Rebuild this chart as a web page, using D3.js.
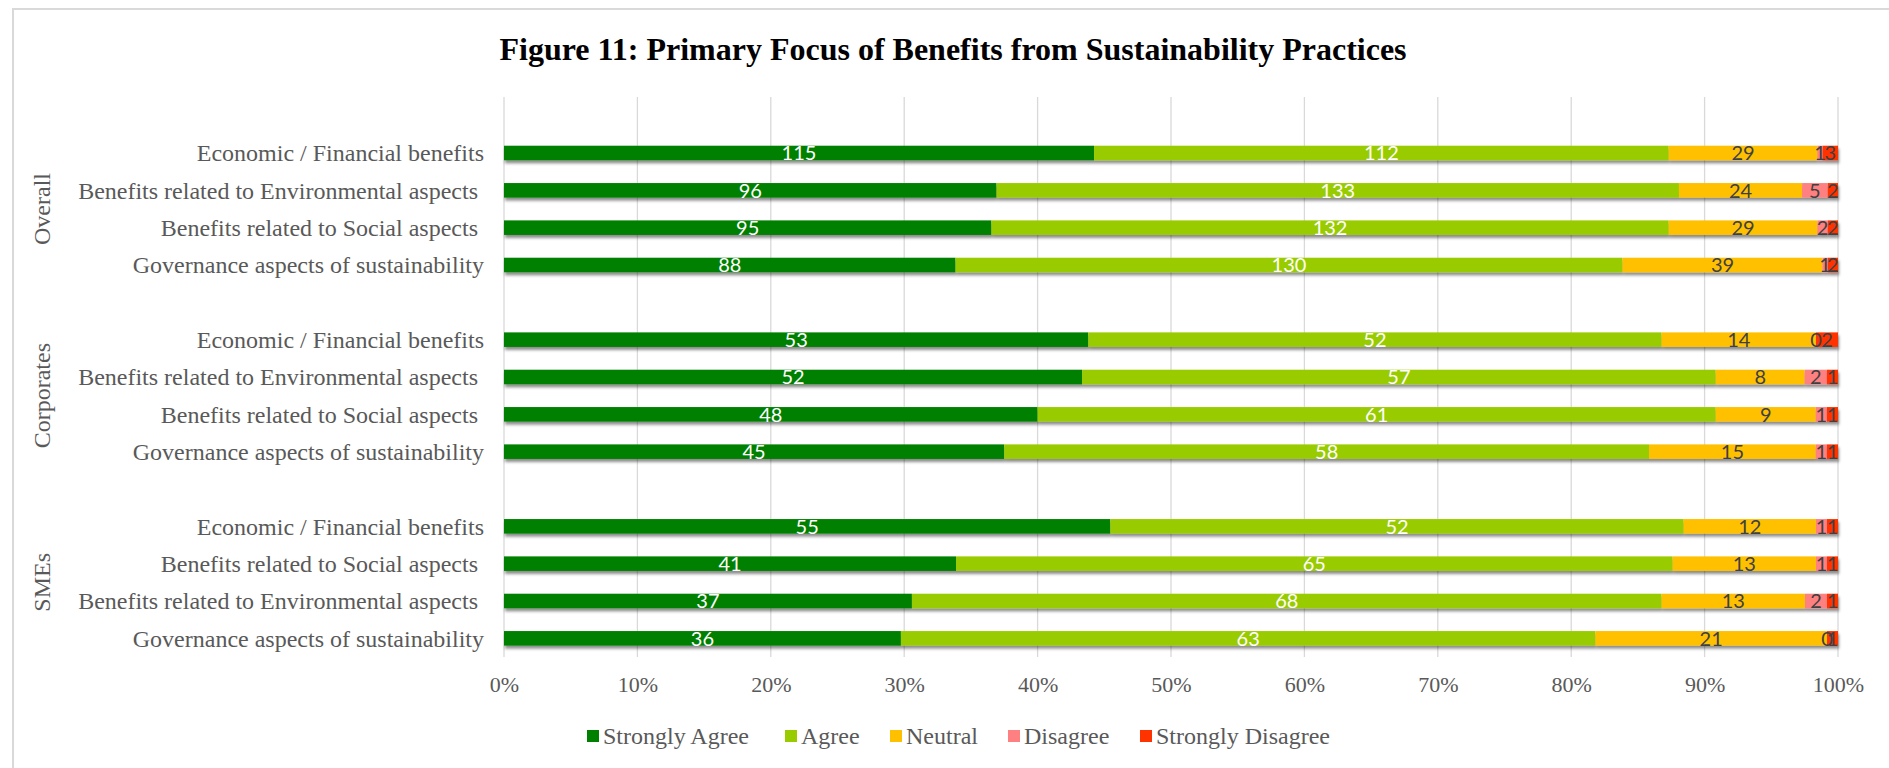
<!DOCTYPE html>
<html>
<head>
<meta charset="utf-8">
<script src="https://cdn.jsdelivr.net/npm/d3@7"></script>
<style>
  html, body { margin: 0; padding: 0; background: #fff; }
  svg { display: block; }
</style>
</head>
<body>
<svg id="chart" width="1889" height="768"></svg>
<script>
// ---------------- DATA ----------------
const title = "Figure 11: Primary Focus of Benefits from Sustainability Practices";
const groups = ["Overall", "Corporates", "SMEs"];
const overallCategories = [
  "Economic / Financial benefits",
  "Benefits related to Environmental aspects ",
  "Benefits related to Social aspects ",
  "Governance aspects of sustainability"
];
const corporateCategories = [
  "Economic / Financial benefits",
  "Benefits related to Environmental aspects ",
  "Benefits related to Social aspects ",
  "Governance aspects of sustainability"
];
const smeCategories = [
  "Economic / Financial benefits",
  "Benefits related to Social aspects ",
  "Benefits related to Environmental aspects ",
  "Governance aspects of sustainability"
];
const seriesNames = ["Strongly Agree", "Agree", "Neutral", "Disagree", "Strongly Disagree"];
// values listed top-to-bottom: Overall (4), Corporates (4), SMEs (4)
const stronglyAgree    = [115, 96, 95, 88,  53, 52, 48, 45,  55, 41, 37, 36];
const agree            = [112, 133, 132, 130, 52, 57, 61, 58, 52, 65, 68, 63];
const neutral          = [29, 24, 29, 39,  14, 8, 9, 15,  12, 13, 13, 21];
const disagree         = [1, 5, 2, 1,  0, 2, 1, 1,  1, 1, 2, 0];
const stronglyDisagree = [3, 2, 2, 2,  2, 1, 1, 1,  1, 1, 1, 1];
const xTicks = [0, 0.1, 0.2, 0.3, 0.4, 0.5, 0.6, 0.7, 0.8, 0.9, 1.0];

// ---------------- STYLE ----------------
const colors = ["#008000", "#99cc00", "#ffc000", "#ff8080", "#ff3300"];
const labelColors = ["#ffffff", "#ffffff", "#404040", "#404040", "#404040"];
const serif = "'Liberation Serif', 'Times New Roman', serif";
const sans = "Lato, 'Open Sans', sans-serif";

// ---------------- BUILD ROWS ----------------
const seriesValues = [stronglyAgree, agree, neutral, disagree, stronglyDisagree];
const groupCats = [overallCategories, corporateCategories, smeCategories];
const rows = [];
const slots = [];
let idx = 0;
groups.forEach((g, gi) => {
  slots.push("gap" + gi);
  groupCats[gi].forEach((c, ci) => {
    const key = g + "|" + ci;
    slots.push(key);
    const vals = seriesValues.map(s => s[idx]);
    const total = d3.sum(vals);
    let cum = 0;
    const segs = vals.map((v, si) => {
      const s = { series: si, value: v, x0: cum / total, x1: (cum + v) / total };
      cum += v;
      return s;
    });
    rows.push({ key, group: g, category: c, segs });
    idx++;
  });
});

// ---------------- SCALES ----------------
const svg = d3.select("#chart");
const plot = { left: 504, right: 1838, top: 97, bottom: 657 };
const x = d3.scaleLinear().domain([0, 1]).range([plot.left, plot.right]);
const y = d3.scaleBand().domain(slots).range([plot.top, plot.bottom])
  .paddingInner(0.61).paddingOuter(0.305);

// frame
svg.append("rect").attr("x", 13).attr("y", 9).attr("width", 1900).attr("height", 800)
  .attr("fill", "#fff").attr("stroke", "#d9d9d9").attr("stroke-width", 2);

// shadow filter
const defs = svg.append("defs");
const f = defs.append("filter").attr("id", "shadow")
  .attr("x", "-5%").attr("y", "-50%").attr("width", "110%").attr("height", "250%");
f.append("feDropShadow").attr("dx", 1).attr("dy", 3).attr("stdDeviation", 1.8)
  .attr("flood-color", "#000").attr("flood-opacity", 0.45);

// title
svg.append("text").attr("x", 953).attr("y", 60).attr("text-anchor", "middle")
  .attr("font-family", serif).attr("font-weight", "bold").attr("font-size", 32)
  .attr("fill", "#000").text(title);

// gridlines
svg.append("g").selectAll("line").data(xTicks).join("line")
  .attr("x1", d => x(d)).attr("x2", d => x(d))
  .attr("y1", plot.top).attr("y2", plot.bottom)
  .attr("stroke", "#d9d9d9").attr("stroke-width", 1.3);

// x axis
const xAxis = d3.axisBottom(x).tickValues(xTicks).tickFormat(d3.format(".0%")).tickSize(0).tickPadding(0);
const xg = svg.append("g").attr("transform", `translate(0,${plot.bottom + 35})`).call(xAxis);
xg.select(".domain").remove();
xg.selectAll("text").attr("font-family", serif).attr("font-size", 22).attr("fill", "#595959")
  .attr("dy", "0");

// bars
const rowG = svg.append("g").selectAll("g").data(rows).join("g")
  .attr("transform", d => `translate(0,${y(d.key)})`);
rowG.append("g").attr("filter", "url(#shadow)").selectAll("rect").data(d => d.segs).join("rect")
  .attr("x", d => x(d.x0)).attr("width", d => x(d.x1) - x(d.x0))
  .attr("y", 0).attr("height", y.bandwidth())
  .attr("fill", d => colors[d.series]);
rowG.append("g").selectAll("text").data(d => d.segs).join("text")
  .attr("x", d => (x(d.x0) + x(d.x1)) / 2)
  .attr("y", y.bandwidth() / 2).attr("dy", "0.36em")
  .attr("text-anchor", "middle").attr("font-family", sans).attr("font-size", 20)
  .attr("fill", d => labelColors[d.series]).text(d => d.value);

// category labels
svg.append("g").selectAll("text").data(rows).join("text")
  .attr("x", 484).attr("y", d => y(d.key) + y.bandwidth() / 2).attr("dy", "0.35em")
  .attr("text-anchor", "end").attr("font-family", serif).attr("font-size", 24)
  .attr("fill", "#595959").style("white-space", "pre").text(d => d.category);

// group labels
groups.forEach(g => {
  const keys = rows.filter(r => r.group === g).map(r => r.key);
  const cy = (y(keys[0]) + y(keys[keys.length - 1]) + y.bandwidth()) / 2;
  svg.append("text").attr("transform", `translate(42,${cy}) rotate(-90)`)
    .attr("text-anchor", "middle").attr("dy", "0.35em")
    .attr("font-family", serif).attr("font-size", 24).attr("fill", "#595959").text(g);
});

// legend
const legendX = [587, 785, 890, 1008, 1140];
const lg = svg.append("g").selectAll("g").data(seriesNames).join("g")
  .attr("transform", (d, i) => `translate(${legendX[i]},736)`);
lg.append("rect").attr("x", 0).attr("y", -6).attr("width", 12).attr("height", 12)
  .attr("fill", (d, i) => colors[i]);
lg.append("text").attr("x", 16).attr("y", 0).attr("dy", "0.35em")
  .attr("font-family", serif).attr("font-size", 24).attr("fill", "#595959").text(d => d);
</script>
</body>
</html>
